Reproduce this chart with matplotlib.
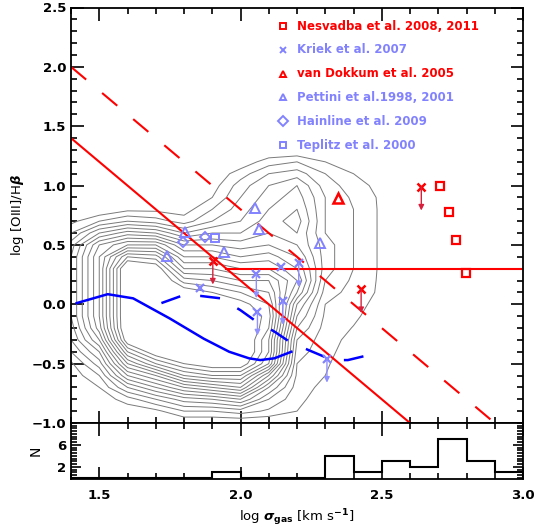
import numpy as np
import matplotlib.pyplot as plt
from matplotlib.ticker import MultipleLocator, FixedLocator

plt.rcParams['font.family'] = ['DejaVu Sans']
plt.rcParams['font.weight'] = 'bold'
plt.rcParams['mathtext.fontset'] = 'custom'
plt.rcParams['mathtext.rm'] = 'DejaVu Sans:bold'
plt.rcParams['mathtext.it'] = 'DejaVu Sans:italic:bold'
plt.rcParams['mathtext.bf'] = 'DejaVu Sans:bold'

RED = '#ff0000'
LBLUE = '#8282ff'

# density of the local sample, estimated by eye on a 0.1 x 0.1 grid
grid_x = [1.4, 1.5, 1.6, 1.7, 1.8, 1.9, 2.0, 2.1, 2.2, 2.3, 2.4, 2.5, 2.6]
grid_y = [-1.0, -0.9, -0.8, -0.7, -0.6, -0.5, -0.4, -0.3, -0.2, -0.1, 0.0, 0.1,
          0.2, 0.3, 0.4, 0.5, 0.6, 0.7, 0.8, 0.9, 1.0, 1.1, 1.2, 1.3]
density = [
    [0, 0, 0, 0, 0, 0, 0, 0, 0, 0, 0, 0, 0],
    [0, 0, 0.3, 0.7, 2, 2, 2.5, 1.8, 1.0, 0.1, 0, 0, 0],
    [0, 0.3, 1.5, 3, 4.5, 5, 6, 3, 1.3, 0.4, 0, 0, 0],
    [0, 1, 4, 6, 8, 9, 10, 5, 1.5, 0.7, 0, 0, 0],
    [0.3, 2, 7, 9, 12, 13, 13, 8, 1.8, 1.0, 0.2, 0, 0],
    [0.8, 3.5, 10, 13, 15, 16, 16, 12, 2, 1.15, 0.3, 0, 0],
    [2, 5, 13, 16, 17, 17, 17, 13, 2.5, 1.3, 0.5, 0, 0],
    [3, 7, 16, 17, 17, 17, 17, 13, 3, 1.4, 0.7, 0.2, 0],
    [3.5, 8.5, 17, 17, 17, 17, 17, 14, 4, 1.6, 0.95, 0.3, 0],
    [4, 9, 17, 17, 17, 17, 16.5, 14.5, 5, 1.8, 1.2, 0.4, 0],
    [4, 9, 17, 17, 17, 16.5, 15.5, 14, 6, 2, 1.4, 0.6, 0],
    [4, 9, 17, 17, 16, 15, 14, 13, 8, 2.5, 1.6, 0.8, 0],
    [4, 9, 17, 17, 13.5, 13, 12, 12, 9, 3, 1.8, 0.8, 0],
    [4, 9, 17, 16, 11, 11, 10, 10, 8, 3.5, 2, 0.8, 0],
    [4, 9, 14, 13.5, 9, 9, 8, 8.5, 7, 3.5, 2, 0.8, 0],
    [3.5, 8, 10, 10, 7, 7, 6.5, 7, 6, 3.5, 2, 0.8, 0],
    [2, 5, 6.5, 6, 4, 5, 5, 6, 6, 3, 2, 0.8, 0],
    [0.7, 2, 3, 2.5, 1.5, 3, 4, 5.5, 6.5, 3, 2, 0.8, 0],
    [0, 0, 0.7, 0.7, 0.5, 2, 3.5, 5, 6, 3, 2, 0.8, 0],
    [0, 0, 0, 0, 0, 1, 3, 4.5, 5.5, 3, 1.8, 0.8, 0],
    [0, 0, 0, 0, 0, 0.5, 2.5, 4, 5, 2.5, 1.5, 0.6, 0],
    [0, 0, 0, 0, 0, 0.2, 1.5, 3, 3.5, 2, 1, 0.3, 0],
    [0, 0, 0, 0, 0, 0, 0.3, 1.5, 2, 1, 0.3, 0, 0],
    [0, 0, 0, 0, 0, 0, 0, 0, 0, 0, 0, 0, 0],
]
levels = np.arange(1, 16)

# running medians
med_x = [1.42, 1.53, 1.62, 1.75, 1.87, 1.96, 2.03, 2.07, 2.12, 2.18]
med_y = [0.01, 0.085, 0.05, -0.12, -0.29, -0.40, -0.455, -0.47, -0.455, -0.40]
med2_x = [1.72, 1.79, 1.86, 1.93, 2.0, 2.05, 2.12, 2.17, 2.24, 2.31, 2.35, 2.38, 2.45]
med2_y = [0.01, 0.07, 0.07, 0.05, -0.05, -0.135, -0.23, -0.31, -0.385, -0.455, -0.47, -0.47, -0.43]

# dividing lines
line_x = [1.4, 2.6]
line_y = [1.4, -1.0]
dline_x = [1.4, 2.9]
dline_y = [2.0, -1.0]
hline_x = [1.95, 3.0]
hline_y = [0.3, 0.3]

# high-z samples
nes_x = [2.706, 2.738, 2.763, 2.798]
nes_y = [0.996, 0.78, 0.54, 0.26]
nes_lim_x = [2.64, 2.427, 1.902]
nes_lim_y = [0.99, 0.126, 0.367]
vdk_x = [2.344]
vdk_y = [0.897]
kriek_x = [1.855, 2.056, 2.143, 2.206, 2.06, 2.15, 2.306]
kriek_y = [0.14, 0.252, 0.311, 0.345, -0.062, 0.028, -0.46]
kriek_lim = [False, True, False, True, True, True, True]
pet_x = [2.052, 2.064, 2.28, 1.804, 1.741, 1.94]
pet_y = [0.813, 0.63, 0.518, 0.606, 0.407, 0.44]
hain_x = [1.798, 1.875]
hain_y = [0.527, 0.569]
tep_x = [1.91]
tep_y = [0.555]
arrow_len = 0.2

# histogram of the high-z sample
bin_edges = [1.4, 1.5, 1.6, 1.7, 1.8, 1.9, 2.0, 2.1, 2.2, 2.3, 2.4, 2.5, 2.6, 2.7, 2.8, 2.9, 3.0]
counts = [0, 0, 0, 0, 0, 1, 0, 0, 0, 4, 1, 3, 2, 7, 3, 1]

fig = plt.figure(figsize=(5.37, 5.27), dpi=100)
ax = fig.add_axes([71 / 537, 1 - 423 / 527, 452 / 537, 415.5 / 527])
axh = fig.add_axes([71 / 537, 1 - 479 / 527, 452 / 537, 56 / 527], sharex=ax)

ax.contour(grid_x, grid_y, density, levels=levels, colors='#7a7a7a', linewidths=0.7)

ax.plot(med_x, med_y, color='#0000ff', lw=1.8)
ax.plot(med2_x, med2_y, color='#0000ff', lw=1.8, dashes=(8, 8))

ax.plot(line_x, line_y, color=RED, lw=1.5)
ax.plot(dline_x, dline_y, color=RED, lw=1.5, dashes=(9.5, 10))
ax.plot(hline_x, hline_y, color=RED, lw=1.5)

for x, y in zip(nes_lim_x, nes_lim_y):
    ax.annotate('', xy=(x, y - arrow_len), xytext=(x, y),
                arrowprops=dict(arrowstyle='-|>', color='#d8203c', lw=1.0,
                                mutation_scale=8, shrinkA=0, shrinkB=0))
for x, y, lim in zip(kriek_x, kriek_y, kriek_lim):
    if lim:
        ax.annotate('', xy=(x, y - arrow_len), xytext=(x, y),
                    arrowprops=dict(arrowstyle='-|>', color='#9090ff', lw=1.0,
                                    mutation_scale=8, shrinkA=0, shrinkB=0))

ax.plot(nes_x, nes_y, 's', mfc='none', mec=RED, ms=6, mew=1.6, ls='none')
ax.plot(nes_lim_x, nes_lim_y, 'x', color=RED, ms=6, mew=1.8, ls='none')
ax.plot(vdk_x, vdk_y, '^', mfc='none', mec=RED, ms=7, mew=1.8, ls='none')
ax.plot(kriek_x, kriek_y, 'x', color=LBLUE, ms=6, mew=1.6, ls='none')
ax.plot(pet_x, pet_y, '^', mfc='none', mec=LBLUE, ms=7, mew=1.4, ls='none')
ax.plot(hain_x, hain_y, 'D', mfc='none', mec=LBLUE, ms=5, mew=1.4, ls='none')
ax.plot(tep_x, tep_y, 's', mfc='none', mec=LBLUE, ms=6, mew=1.4, ls='none')

# legend drawn by hand
leg_rows = [
    ('s', RED, 'Nesvadba et al. 2008, 2011'),
    ('x', LBLUE, 'Kriek et al. 2007'),
    ('^', RED, 'van Dokkum et al. 2005'),
    ('^', LBLUE, 'Pettini et al.1998, 2001'),
    ('D', LBLUE, 'Hainline et al. 2009'),
    ('s', LBLUE, 'Teplitz et al. 2000'),
]
for i, (m, c, lab) in enumerate(leg_rows):
    yy = 0.955 - i * 0.0572
    if m == 'x':
        ax.plot([0.469], [yy], m, color=c, ms=5, mew=1.4, transform=ax.transAxes)
    else:
        ax.plot([0.469], [yy], m, mfc='none', mec=c, ms=5, mew=1.4,
                transform=ax.transAxes)
    ax.text(0.500, yy, lab, color=c, fontsize=8.5, fontweight='bold',
            va='center', ha='left', transform=ax.transAxes)

ax.set_xlim(1.4, 3.0)
ax.set_ylim(-1.0, 2.5)
ax.xaxis.set_major_locator(MultipleLocator(0.5))
ax.xaxis.set_minor_locator(MultipleLocator(0.1))
ax.yaxis.set_major_locator(MultipleLocator(0.5))
ax.yaxis.set_minor_locator(MultipleLocator(0.1))
ax.tick_params(which='both', direction='in', top=True, right=True, width=1.2,
               labelbottom=False, labelsize=9.5)
ax.tick_params(which='major', length=9)
ax.tick_params(which='minor', length=4.5)
ax.set_ylabel('log [OIII]/H$\\beta$', fontsize=9.5)
ax.yaxis.label.set_va('center')
ax.yaxis.set_label_coords(-0.118, 0.5)

axh.stairs(counts, bin_edges, color='k', lw=1.5)
axh.set_ylim(-0.2, 10)
axh.yaxis.set_major_locator(FixedLocator([2, 6]))
axh.yaxis.set_minor_locator(MultipleLocator(0.5))
axh.tick_params(which='both', direction='in', top=True, right=True, width=1.2,
                labelsize=9.5)
axh.tick_params(which='major', length=7)
axh.tick_params(which='minor', length=4)
axh.tick_params(axis='x', which='major', length=9, pad=7)
axh.set_ylabel('N', fontsize=10, labelpad=10)
axh.set_xlabel(r'log $\sigma_{\rm gas}$ [km s$^{-1}$]', fontsize=9.5)
axh.xaxis.label.set_va('center')
axh.xaxis.set_label_coords(0.5, -0.69)

for a in (ax, axh):
    for s in a.spines.values():
        s.set_linewidth(1.3)

fig.savefig('out.png', dpi=100)
